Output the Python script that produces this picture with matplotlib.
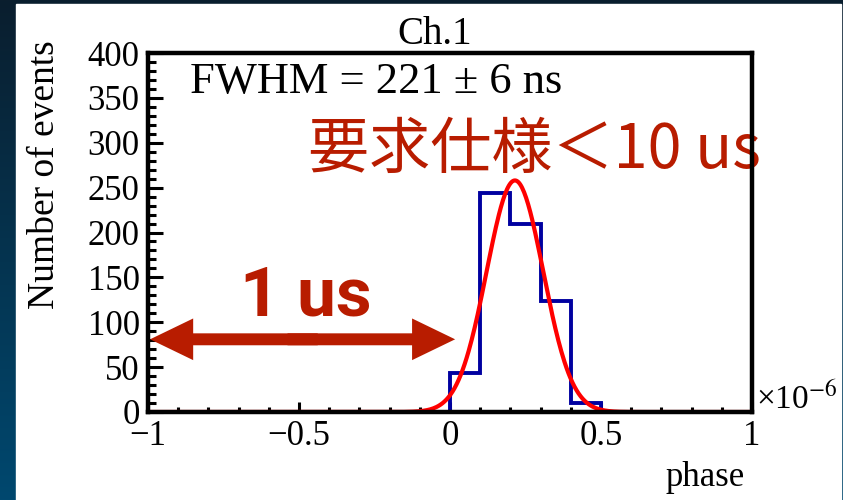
import numpy as np
import matplotlib
matplotlib.use('Agg')
import matplotlib.pyplot as plt
from matplotlib.patches import Rectangle, FancyArrowPatch
from matplotlib.ticker import MultipleLocator

# histogram of phase (units of 1e-6), bin width 0.1
bin_edges = [-1.0, -0.9, -0.8, -0.7, -0.6, -0.5, -0.4, -0.3, -0.2, -0.1,
             0.0, 0.1, 0.2, 0.3, 0.4, 0.5, 0.6, 0.7, 0.8, 0.9, 1.0]
counts = [0, 0, 0, 0, 0, 0, 0, 0, 0, 0,
          43, 244, 209, 124, 10, 0, 0, 0, 0, 0]

# gaussian fit result
fit_amp = 258.0
fit_mean = 0.215
fit_sigma = 0.0938

x_ticks = [-1, -0.5, 0, 0.5, 1]
x_ticklabels = ['\u22121', '\u22120.5', '0', '0.5', '1']
y_ticks = [0, 50, 100, 150, 200, 250, 300, 350, 400]

serif = 'Liberation Serif'
red_txt = '#b81c00'
plt.rcParams['mathtext.fontset'] = 'stix'

fig = plt.figure(figsize=(8.43, 5.00), dpi=100)

# dark gradient background + white panel
bg = fig.add_axes([0, 0, 1, 1], zorder=-10)
grad = np.linspace(0, 1, 256).reshape(-1, 1)
cmap = matplotlib.colors.LinearSegmentedColormap.from_list('bg', ['#0a1e2e', '#00486f'])
bg.imshow(grad, aspect='auto', cmap=cmap, extent=[0, 1, 0, 1], origin='upper')
bg.add_patch(Rectangle((16 / 843, 0), (841 - 16) / 843, 496 / 500,
                       transform=bg.transAxes, color='white'))
bg.set_xlim(0, 1)
bg.set_ylim(0, 1)
bg.axis('off')

ax = fig.add_axes([148 / 843, 88 / 500, 604 / 843, 359 / 500])
ax.set_xlim(-1, 1)
ax.set_ylim(0, 400)

ax.stairs(counts, bin_edges, color='#0000a0', lw=2.8, zorder=3)
xf = np.linspace(-1, 1, 600)
yf = fit_amp * np.exp(-0.5 * ((xf - fit_mean) / fit_sigma) ** 2)
ax.plot(xf, yf, color='red', lw=3, zorder=4)

for s in ax.spines.values():
    s.set_linewidth(3.2)
    s.set_zorder(5)

ax.set_xticks(x_ticks)
ax.set_xticklabels(x_ticklabels)
ax.set_yticks(y_ticks)
ax.xaxis.set_minor_locator(MultipleLocator(0.1))
ax.yaxis.set_minor_locator(MultipleLocator(10))
ax.tick_params(axis='y', which='major', direction='in', length=11, width=2.2, pad=6)
ax.tick_params(axis='y', which='minor', direction='in', length=6, width=2.2)
ax.tick_params(axis='x', which='major', direction='in', length=7.5, width=2.2, pad=6)
ax.tick_params(axis='x', which='minor', direction='in', length=3.5, width=2.2)
for lab in ax.get_xticklabels() + ax.get_yticklabels():
    lab.set_fontfamily(serif)
    lab.set_fontsize(25)

ax.set_title('Ch.1', fontfamily=serif, fontsize=28, pad=1, x=0.475)
fig.text(27 / 843, 1 - 40 / 500, 'Number of events', rotation=90, ha='left', va='top',
         fontfamily=serif, fontsize=27)
fig.text(745 / 843, 1 - 486 / 500, 'phase', ha='right', va='baseline',
         fontfamily=serif, fontsize=25)
fig.text(756 / 843, 1 - 409 / 500, '\u00d710$^{\u22126}$', ha='left', va='baseline',
         fontfamily=serif, fontsize=24)

ax.text(-0.861, 355, 'FWHM = 221 \u00b1 6 ns', ha='left', va='baseline',
        fontfamily=serif, fontsize=32)

ax.text(-0.47, 291, '要求仕様＜10 us', ha='left', va='center', color=red_txt,
        fontfamily=['Noto Sans CJK JP', 'DejaVu Sans'], fontsize=44, zorder=2)
ax.text(-0.477, 128, '1 us', ha='center', va='center', color=red_txt,
        fontfamily='Roboto', fontweight='bold', fontsize=50, zorder=2)

# double arrow "1 us"
arr_y = 81
mid = (-0.993 + 0.017) / 2
for start, end in ((mid + 0.05, -0.993), (mid - 0.05, 0.017)):
    ax.add_patch(FancyArrowPatch((start, arr_y), (end, arr_y),
                                 arrowstyle='simple,head_length=31,head_width=30,tail_width=8.6',
                                 mutation_scale=1, shrinkA=0, shrinkB=0,
                                 color=red_txt, lw=0, zorder=6))

fig.savefig('out.png', dpi=100)
